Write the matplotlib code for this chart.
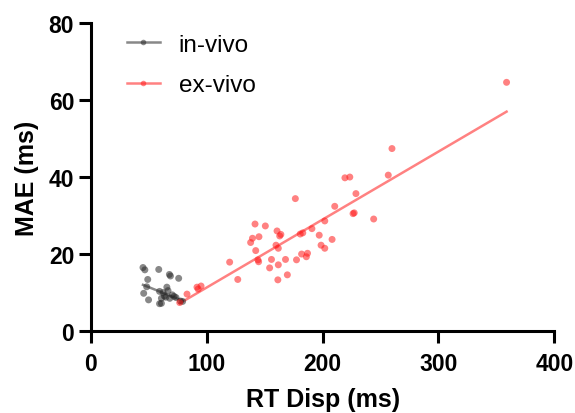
import numpy as np
import matplotlib
matplotlib.use('Agg')
import matplotlib.pyplot as plt
from matplotlib.lines import Line2D

plt.rcParams['font.family'] = ['Liberation Sans', 'DejaVu Sans']

# in-vivo data (RT Disp, MAE)
invivo_x = [45.0, 46.6, 58.6, 67.8, 68.7, 75.8, 49.1, 45.6, 49.8, 48.2, 59.3, 62.4, 65.6,
            66.6, 60.9, 59.3, 60.9, 63.4, 68.1, 70.3, 71.9, 73.5, 77.3, 79.2, 64.7]
invivo_y = [16.6, 16.0, 16.1, 14.8, 14.4, 13.8, 13.5, 9.9, 8.2, 11.6, 10.4, 10.1, 11.5,
            10.6, 8.6, 7.2, 7.3, 9.2, 8.6, 9.5, 9.1, 8.8, 7.9, 7.8, 8.9]

# ex-vivo data
exvivo_x = [358.8, 259.9, 256.7, 219.3, 223.5, 228.8, 210.5, 226.3, 227.3, 244.1, 201.9,
            176.5, 190.8, 197.1, 208.2, 198.7, 201.9, 180.7, 182.9, 160.7, 164.0, 163.0,
            159.8, 161.8, 141.7, 150.6, 139.5, 137.9, 145.1, 142.3, 144.2, 144.8, 155.9,
            154.3, 161.8, 161.4, 169.6, 168.0, 177.5, 181.9, 186.0, 187.0, 119.8, 126.8,
            92.6, 95.1, 91.6, 83.0, 76.7]
exvivo_y = [64.7, 47.5, 40.6, 39.9, 40.1, 35.8, 32.5, 30.6, 30.8, 29.2, 28.7,
            34.5, 26.7, 25.0, 23.9, 22.4, 21.6, 25.3, 25.6, 26.1, 25.2, 24.8,
            22.4, 21.6, 27.9, 27.4, 24.2, 23.1, 24.6, 21.0, 18.6, 18.1, 18.7,
            16.5, 17.3, 13.4, 14.7, 18.7, 18.6, 20.1, 19.4, 20.3, 18.0, 13.5,
            11.0, 11.8, 11.5, 9.7, 7.5]

# linear fit lines (slope, intercept)
invivo_fit = (-0.12, 17.5)
exvivo_fit = (0.1765, -6.24)

fig = plt.figure(figsize=(5.75, 4.14), dpi=100)
ax = fig.add_axes([0.158, 0.197, 0.806, 0.744])

groups = [
    (invivo_x, invivo_y, invivo_fit, '#262626', 'in-vivo'),
    (exvivo_x, exvivo_y, exvivo_fit, '#ff1a1a', 'ex-vivo'),
]
handles = []
for xs, ys, fit, color, label in groups:
    ax.scatter(xs, ys, s=25, color=color, alpha=0.55, edgecolors='none', zorder=3)
    xl = np.array([min(xs), max(xs)])
    ax.plot(xl, fit[0] * xl + fit[1], color=color, alpha=0.55, lw=1.8, zorder=2)
    handles.append(Line2D([], [], color=color, alpha=0.55, lw=1.8, marker='o',
                          markersize=4, markeredgewidth=0, label=label))

ax.set_xlim(0, 400)
ax.set_ylim(0, 80)
ax.set_xticks([0, 100, 200, 300, 400])
ax.set_yticks([0, 20, 40, 60, 80])
ax.spines['top'].set_visible(False)
ax.spines['right'].set_visible(False)
for sp in ['left', 'bottom']:
    ax.spines[sp].set_linewidth(2.2)
ax.tick_params(width=2.2, length=8.5, labelsize=16.5)
ax.tick_params(axis='x', pad=6)
ax.tick_params(axis='y', pad=3.5)
for lbl in ax.get_xticklabels() + ax.get_yticklabels():
    lbl.set_fontweight('bold')

ax.set_xlabel('RT Disp (ms)', fontsize=18, fontweight='bold', labelpad=9)
ax.set_ylabel('MAE (ms)', fontsize=18, fontweight='bold', labelpad=7)

ax.legend(handles=handles, loc='upper left', bbox_to_anchor=(0.03, 1.037), frameon=False,
          fontsize=17.5, handlelength=1.36, handletextpad=0.78, labelspacing=0.76)

fig.savefig('out.png', dpi=100)
